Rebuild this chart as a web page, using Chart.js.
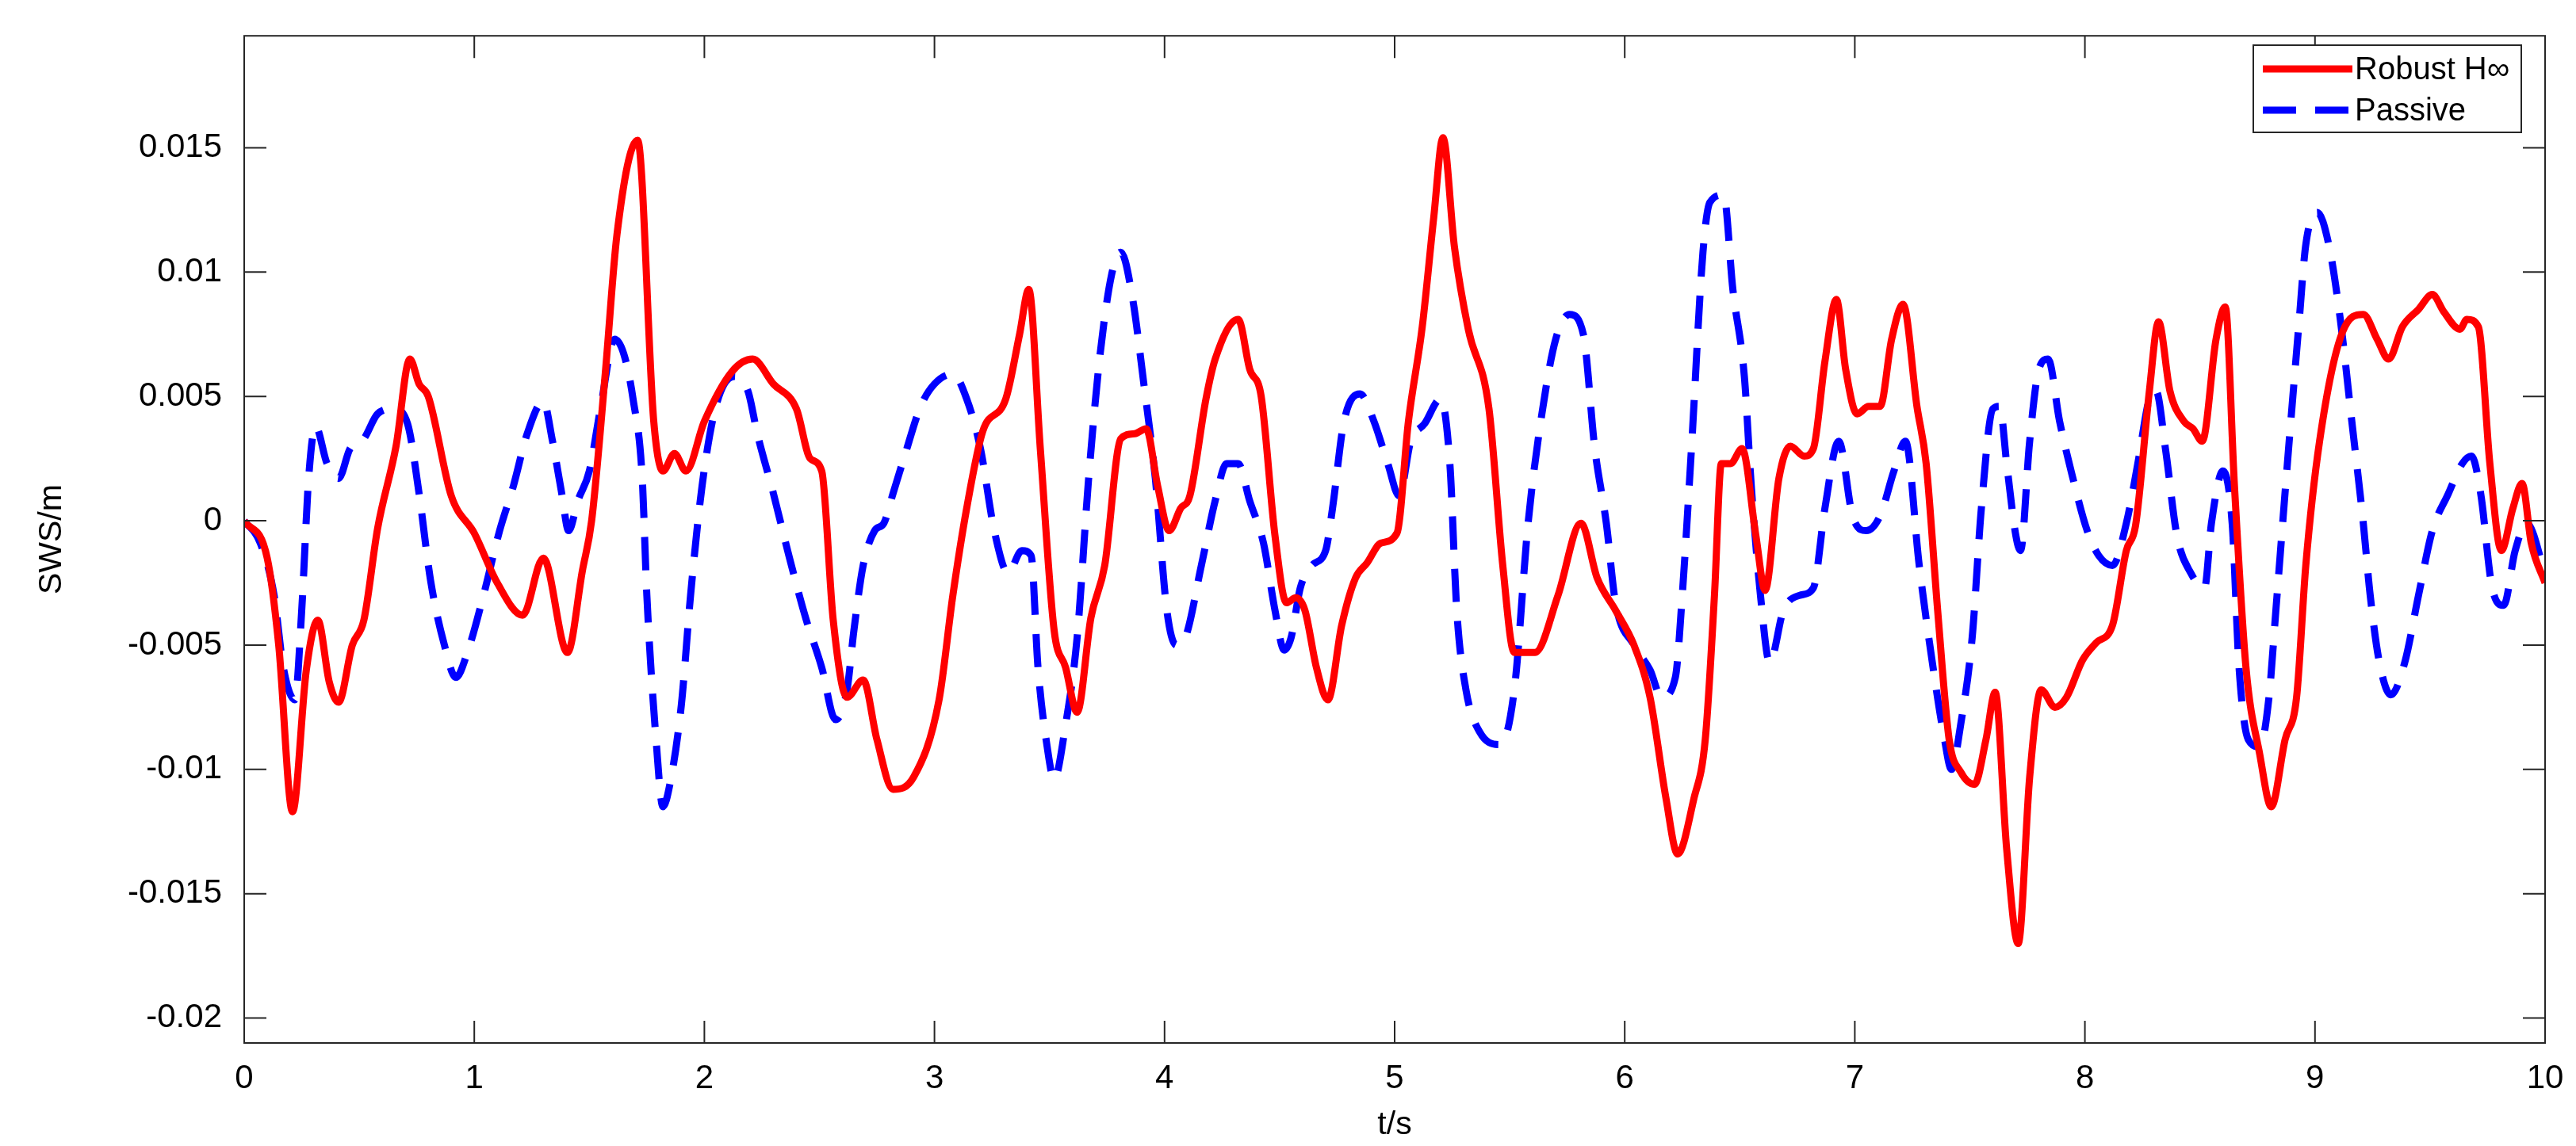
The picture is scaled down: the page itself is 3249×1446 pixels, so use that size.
<!DOCTYPE html>
<html>
<head>
<meta charset="utf-8">
<script src="https://cdn.jsdelivr.net/npm/chart.js@4.4.1/dist/chart.umd.min.js"></script>
<style>
html, body { margin: 0; padding: 0; background: #fff; }
#wrap { width: 3249px; height: 1446px; }
</style>
</head>
<body>
<div id="wrap"><canvas id="c"></canvas></div>
<script>
// Robust H∞ (red)
var robustT = [0,0.1,0.15,0.21,0.27,0.32,0.37,0.41,0.47,0.52,0.58,0.66,0.72,0.76,0.8,0.9,1.0,1.1,1.21,1.3,1.405,1.47,1.51,1.57,1.62,1.71,1.78,1.82,1.87,1.92,2.0,2.12,2.21,2.3,2.4,2.46,2.51,2.56,2.62,2.69,2.75,2.82,2.91,3.02,3.08,3.14,3.21,3.31,3.37,3.41,3.46,3.52,3.57,3.62,3.68,3.74,3.81,3.87,3.92,3.97,4.02,4.07,4.11,4.18,4.22,4.32,4.37,4.42,4.48,4.53,4.57,4.61,4.66,4.71,4.77,4.83,4.88,4.94,5.01,5.06,5.12,5.17,5.21,5.26,5.32,5.41,5.47,5.52,5.61,5.71,5.81,5.88,5.96,6.04,6.11,6.18,6.23,6.3,6.35,6.39,6.42,6.46,6.51,6.57,6.61,6.67,6.72,6.78,6.82,6.87,6.92,6.96,7.01,7.06,7.11,7.16,7.21,7.27,7.31,7.36,7.41,7.46,7.52,7.57,7.61,7.66,7.71,7.76,7.81,7.87,7.92,7.99,8.05,8.12,8.18,8.22,8.28,8.32,8.37,8.43,8.47,8.51,8.57,8.61,8.65,8.7,8.76,8.81,8.87,8.92,8.96,9.02,9.12,9.21,9.27,9.32,9.38,9.45,9.51,9.56,9.63,9.66,9.71,9.76,9.81,9.86,9.9,9.94,10.0];
var robustY = [0,-0.0015,-0.005,-0.0117,-0.006,-0.004,-0.0065,-0.0073,-0.005,-0.004,-0.0003,0.003,0.0065,0.0055,0.005,0.001,-0.0005,-0.0025,-0.0038,-0.0015,-0.0053,-0.002,0,0.006,0.0115,0.0153,0.004,0.002,0.0027,0.002,0.004,0.006,0.0065,0.0055,0.0045,0.0025,0.002,-0.004,-0.0071,-0.0064,-0.0088,-0.0108,-0.0103,-0.0072,-0.003,0.0005,0.0036,0.0049,0.0075,0.0093,0.0029,-0.0044,-0.0059,-0.0077,-0.0039,-0.0018,0.0033,0.0035,0.0037,0.0014,-0.0004,0.0005,0.001,0.0049,0.0065,0.0081,0.0061,0.005,-0.0006,-0.0033,-0.0031,-0.0036,-0.0059,-0.0072,-0.0042,-0.0023,-0.0017,-0.0009,-0.0005,0.004,0.0078,0.0122,0.0154,0.011,0.0077,0.0045,-0.0018,-0.0053,-0.0053,-0.003,-0.0001,-0.0023,-0.0036,-0.005,-0.0071,-0.0112,-0.0134,-0.0112,-0.0088,-0.003,0.0023,0.0023,0.0029,-0.0006,-0.0028,0.0017,0.003,0.0026,0.0029,0.0064,0.0089,0.0061,0.0043,0.0046,0.0046,0.0073,0.0087,0.0046,0.0023,-0.0036,-0.0088,-0.0101,-0.0106,-0.0088,-0.0069,-0.0132,-0.017,-0.0103,-0.0068,-0.0075,-0.0071,-0.0056,-0.0049,-0.0042,-0.0012,-0.0002,0.0052,0.008,0.0052,0.004,0.0037,0.0032,0.0073,0.0086,0.0014,-0.0059,-0.0094,-0.0115,-0.0088,-0.0071,-0.0018,0.0032,0.0076,0.0083,0.0073,0.0065,0.0078,0.0085,0.0091,0.0084,0.0077,0.0081,0.0078,0.0023,-0.0012,0.0005,0.0015,-0.0009,-0.0025];

// Passive (blue dashed)
var passiveT = [0,0.07,0.13,0.17,0.22,0.25,0.28,0.31,0.36,0.41,0.46,0.52,0.58,0.65,0.71,0.76,0.81,0.87,0.92,0.97,1.04,1.11,1.17,1.23,1.3,1.34,1.38,1.41,1.45,1.5,1.55,1.61,1.65,1.69,1.73,1.75,1.79,1.82,1.85,1.9,1.94,1.99,2.05,2.13,2.19,2.23,2.3,2.37,2.44,2.51,2.57,2.62,2.65,2.69,2.74,2.78,2.82,2.87,2.94,3.0,3.08,3.14,3.2,3.26,3.32,3.38,3.42,3.45,3.49,3.52,3.57,3.62,3.67,3.72,3.77,3.81,3.86,3.91,3.96,4.01,4.05,4.09,4.16,4.22,4.27,4.32,4.37,4.43,4.48,4.52,4.55,4.59,4.64,4.7,4.73,4.78,4.85,4.91,4.97,5.02,5.07,5.13,5.2,5.24,5.27,5.31,5.37,5.46,5.52,5.58,5.64,5.7,5.76,5.82,5.87,5.92,5.96,6.04,6.11,6.16,6.22,6.25,6.29,6.34,6.37,6.43,6.47,6.52,6.55,6.59,6.63,6.69,6.76,6.82,6.87,6.93,6.99,7.05,7.11,7.17,7.22,7.28,7.34,7.39,7.42,7.46,7.51,7.55,7.6,7.63,7.66,7.7,7.72,7.76,7.8,7.84,7.89,7.94,8.01,8.06,8.12,8.18,8.23,8.28,8.31,8.35,8.4,8.46,8.52,8.55,8.6,8.64,8.67,8.71,8.76,8.8,8.83,8.88,8.93,8.96,9.01,9.06,9.11,9.16,9.21,9.24,9.28,9.33,9.39,9.45,9.51,9.58,9.64,9.68,9.72,9.77,9.82,9.87,9.92,10.0];
var passiveY = [0,-0.0009,-0.003,-0.0059,-0.0072,-0.0036,0.0017,0.0038,0.0023,0.0017,0.0029,0.0033,0.0043,0.0045,0.0039,0.0011,-0.0024,-0.005,-0.0063,-0.0053,-0.003,-0.0004,0.0014,0.0035,0.0048,0.0032,0.0011,-0.0004,0.0008,0.002,0.0046,0.0073,0.0067,0.0049,0.0017,-0.003,-0.0088,-0.0115,-0.0106,-0.0074,-0.003,0.0014,0.0046,0.0058,0.0052,0.0035,0.0011,-0.0015,-0.0039,-0.0059,-0.008,-0.0068,-0.0044,-0.0018,-0.0004,-0.0001,0.0011,0.0026,0.0046,0.0055,0.0059,0.0049,0.0029,-0.0004,-0.0021,-0.0012,-0.0014,-0.0059,-0.0091,-0.0104,-0.0082,-0.0047,0.0017,0.0067,0.0099,0.0108,0.009,0.0055,0.0017,-0.0036,-0.005,-0.0047,-0.0018,0.0008,0.0023,0.0023,0.0008,-0.0009,-0.0036,-0.0052,-0.0047,-0.0027,-0.0018,-0.0012,0.0005,0.004,0.0051,0.004,0.0023,0.001,0.0032,0.0039,0.0049,0.0023,-0.0036,-0.0068,-0.0085,-0.009,-0.0068,-0.0001,0.0043,0.0073,0.0083,0.0075,0.0029,-0.0001,-0.0033,-0.005,-0.006,-0.0071,-0.0063,-0.003,0.0029,0.0108,0.0128,0.0131,0.0093,0.0058,0.0014,-0.003,-0.0057,-0.0036,-0.003,-0.0027,0.0005,0.0032,0.0002,-0.0004,0.0002,0.002,0.0032,-0.0018,-0.0059,-0.0088,-0.01,-0.0082,-0.0047,0.0005,0.0045,0.0046,0.0023,-0.0006,-0.0012,0.0032,0.0061,0.0065,0.004,0.002,-0.0004,-0.0014,-0.0018,-0.0001,0.0023,0.0049,0.0052,0.0029,-0.0006,-0.0021,-0.0027,-0.0001,0.002,-0.0001,-0.0059,-0.0088,-0.0091,-0.0071,-0.0036,0.0023,0.0079,0.0111,0.0124,0.0111,0.0081,0.004,-0.0001,-0.003,-0.0057,-0.007,-0.0057,-0.003,-0.0004,0.0011,0.0023,0.0026,0.0011,-0.0027,-0.0034,-0.0012,-0.0001,-0.0021];

var seriesNames = ['Robust H\u221e', 'Passive'];
var xTicks = [0,1,2,3,4,5,6,7,8,9,10];
var yTicks = [-0.02,-0.015,-0.01,-0.005,0,0.005,0.01,0.015];

function pts(t, y) {
    var out = [];
    for (var i = 0; i < t.length; i++) out.push({x: t[i], y: y[i]});
    return out;
}

var FONT = 'Liberation Sans, Arial, sans-serif';

// MATLAB style frame, inward ticks, axis titles and legend
var matlabFrame = {
    id: 'matlabFrame',
    afterDraw: function(chart) {
        var ctx = chart.ctx, a = chart.chartArea;
        var xs = chart.scales.x, ys = chart.scales.y;
        ctx.save();
        ctx.strokeStyle = '#262626';
        ctx.lineWidth = 2;
        ctx.strokeRect(a.left, a.top, a.right - a.left, a.bottom - a.top);
        ctx.beginPath();
        xTicks.forEach(function(v) {
            var px = xs.getPixelForValue(v);
            ctx.moveTo(px, a.bottom); ctx.lineTo(px, a.bottom - 28);
            ctx.moveTo(px, a.top); ctx.lineTo(px, a.top + 28);
        });
        yTicks.forEach(function(v) {
            var py = ys.getPixelForValue(v);
            ctx.moveTo(a.left, py); ctx.lineTo(a.left + 28, py);
            ctx.moveTo(a.right, py); ctx.lineTo(a.right - 28, py);
        });
        ctx.stroke();

        // axis titles
        ctx.fillStyle = '#000';
        ctx.font = '41px ' + FONT;
        ctx.textAlign = 'center';
        ctx.textBaseline = 'middle';
        ctx.fillText('t/s', (a.left + a.right) / 2, 1420);
        ctx.translate(66, (a.top + a.bottom) / 2);
        ctx.rotate(-Math.PI / 2);
        ctx.fillText('SWS/m', 0, 0);
        ctx.restore();

        // legend
        ctx.save();
        var lx = 2842, ly = 57, lw = 338, lh = 110;
        ctx.fillStyle = '#fff';
        ctx.fillRect(lx, ly, lw, lh);
        ctx.strokeStyle = '#262626';
        ctx.lineWidth = 2;
        ctx.strokeRect(lx, ly, lw, lh);
        ctx.font = '40px ' + FONT;
        ctx.textAlign = 'left';
        ctx.textBaseline = 'middle';
        chart.data.datasets.forEach(function(ds, i) {
            var yy = ly + 30 + i * 52;
            ctx.strokeStyle = ds.borderColor;
            ctx.lineWidth = ds.borderWidth;
            ctx.setLineDash(ds.borderDash || []);
            ctx.beginPath();
            ctx.moveTo(lx + 12, yy); ctx.lineTo(lx + 125, yy);
            ctx.stroke();
            ctx.setLineDash([]);
            ctx.fillStyle = '#000';
            ctx.fillText(ds.label, lx + 128, yy + 2);
        });
        ctx.restore();
    }
};

new Chart(document.getElementById('c'), {
    type: 'line',
    data: {
        datasets: [{
            label: seriesNames[0],
            data: pts(robustT, robustY),
            borderColor: '#ff0000',
            borderWidth: 9,
            pointRadius: 0,
            cubicInterpolationMode: 'monotone'
        }, {
            label: seriesNames[1],
            data: pts(passiveT, passiveY),
            borderColor: '#0000ff',
            borderWidth: 9,
            borderDash: [42, 24],
            pointRadius: 0,
            cubicInterpolationMode: 'monotone'
        }]
    },
    options: {
        responsive: true,
        maintainAspectRatio: false,
        animation: false,
        layout: { padding: { top: 29, right: 39, left: 0, bottom: 0 } },
        plugins: { legend: { display: false }, tooltip: { enabled: false } },
        scales: {
            x: {
                type: 'linear', min: 0, max: 10,
                afterFit: function(s) { s.height = 130; },
                afterBuildTicks: function(s) { s.ticks = xTicks.map(function(v) { return {value: v}; }); },
                grid: { display: false },
                border: { display: false },
                ticks: { font: { size: 42, family: FONT }, color: '#000', padding: 12, maxRotation: 0 }
            },
            y: {
                type: 'linear', min: -0.021, max: 0.0195,
                afterFit: function(s) { s.width = 308; },
                afterBuildTicks: function(s) { s.ticks = yTicks.map(function(v) { return {value: v}; }); },
                grid: { display: false },
                border: { display: false },
                ticks: {
                    font: { size: 42, family: FONT }, color: '#000', padding: 20,
                    callback: function(v) { return String(Math.round(v * 1000) / 1000); }
                }
            }
        }
    },
    plugins: [matlabFrame]
});
</script>
</body>
</html>
